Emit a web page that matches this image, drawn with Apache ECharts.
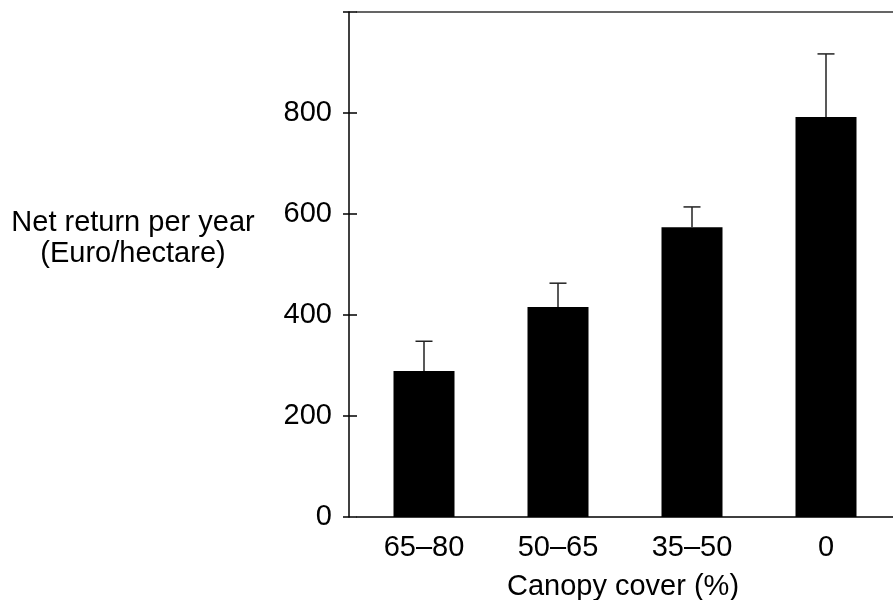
<!DOCTYPE html>
<html>
<head>
<meta charset="utf-8">
<script src="https://cdn.jsdelivr.net/npm/echarts@6/dist/echarts.min.js"></script>
<style>
  html, body { margin: 0; padding: 0; background: #fff; }
  #chart { width: 893px; height: 600px; }
</style>
</head>
<body>
<div id="chart"></div>
<script>
const categories = ['65–80', '50–65', '35–50', '0']
const netReturn = [289, 416, 574, 792]
const errorUpper = [348, 463, 614, 917]
const yMax = 1000
const yInterval = 200

const fontFamily = '"Liberation Sans", Arial, sans-serif'
const fontSize = 29

const chart = echarts.init(document.getElementById('chart'))

const errorData = categories.map(function(c, i) {
  return [i, netReturn[i], errorUpper[i]]
})

chart.setOption({
  animation: false,
  grid: { left: 357, right: -16, top: 12, bottom: 83 },
  xAxis: [{
    type: 'category',
    data: categories,
    axisLine: { onZero: false, lineStyle: { color: '#000', width: 1.5 } },
    axisTick: { show: false },
    axisLabel: { color: '#000', fontFamily: fontFamily, fontSize: fontSize, margin: 16 }
  }, {
    // plain line closing the top of the plot
    type: 'category',
    position: 'top',
    data: categories,
    axisLine: { onZero: false, lineStyle: { color: '#333', width: 1.5 } },
    axisTick: { show: false },
    axisLabel: { show: false }
  }],
  yAxis: [{
    type: 'value',
    min: 0,
    max: yMax,
    interval: yInterval,
    offset: 8,
    splitLine: { show: false },
    axisLine: { show: true, lineStyle: { color: '#000', width: 1.5 } },
    axisTick: { show: true, length: 6, lineStyle: { color: '#000', width: 1.5 } },
    axisLabel: {
      color: '#000', fontFamily: fontFamily, fontSize: fontSize, margin: 17,
      formatter: function(v) { return v === yMax ? '' : String(v) }
    }
  }, {
    type: 'value',
    min: 0,
    max: yMax,
    interval: yInterval,
    offset: 8,
    position: 'left',
    splitLine: { show: false },
    axisLine: { show: false },
    axisTick: { show: true, inside: true, length: 8, lineStyle: { color: '#000', width: 1.5 } },
    axisLabel: { show: false }
  }],
  graphic: [{
    type: 'text',
    x: 133,
    y: 238,
    style: {
      text: 'Net return per year\n(Euro/hectare)',
      fill: '#000',
      font: fontSize + 'px ' + fontFamily,
      lineHeight: 31,
      align: 'center',
      verticalAlign: 'middle'
    }
  }, {
    type: 'text',
    x: 623,
    y: 587,
    style: {
      text: 'Canopy cover (%)',
      fill: '#000',
      font: fontSize + 'px ' + fontFamily,
      align: 'center',
      verticalAlign: 'middle'
    }
  }],
  series: [{
    type: 'bar',
    data: netReturn,
    barWidth: 61,
    itemStyle: { color: '#000' }
  }, {
    type: 'custom',
    data: errorData,
    z: 3,
    renderItem: function(params, api) {
      const base = api.coord([api.value(0), api.value(1)])
      const top = api.coord([api.value(0), api.value(2)])
      const half = 8.5
      const style = { stroke: '#222', lineWidth: 1.5 }
      return {
        type: 'group',
        children: [
          { type: 'line', shape: { x1: base[0], y1: base[1], x2: top[0], y2: top[1] }, style: style },
          { type: 'line', shape: { x1: top[0] - half, y1: top[1], x2: top[0] + half, y2: top[1] }, style: style }
        ]
      }
    }
  }]
})
</script>
</body>
</html>
